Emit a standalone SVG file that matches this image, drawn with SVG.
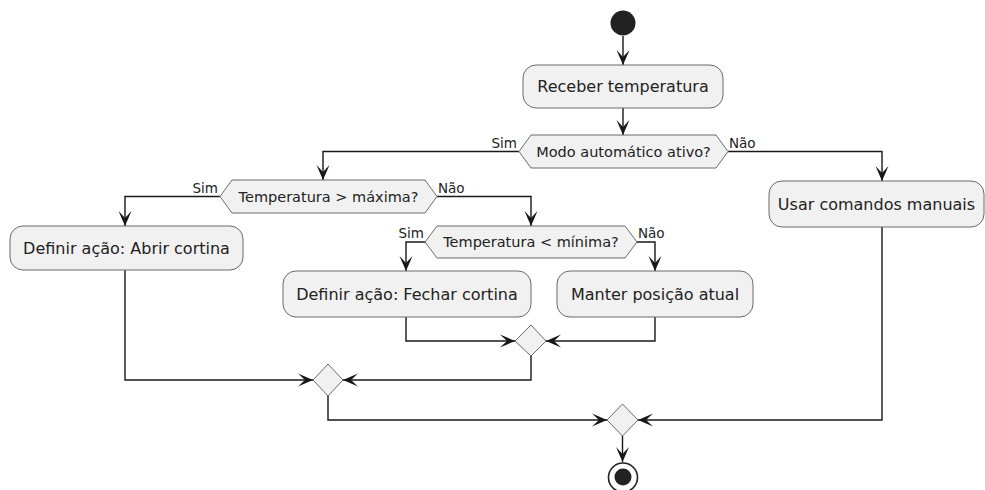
<svg xmlns="http://www.w3.org/2000/svg" width="985" height="490" viewBox="0 0 985 490">
<defs>
<marker id="ah" viewBox="-16 -8 17 16" refX="0" refY="0" markerWidth="17" markerHeight="16" markerUnits="userSpaceOnUse" orient="auto">
<path d="M0,0 L-15,-6.5 L-8,0 L-15,6.5 Z" fill="#181818"/>
</marker>
<style>
.box{fill:#F1F1F1;stroke:#6a6a6a;stroke-width:1}
.dia{fill:#F1F1F1;stroke:#6a6a6a;stroke-width:1}
.t{font-family:"DejaVu Sans",sans-serif;font-size:16px;fill:#222;text-anchor:middle}
.dt{font-family:"DejaVu Sans",sans-serif;font-size:14.5px;fill:#222;text-anchor:middle}
.lb{font-family:"DejaVu Sans",sans-serif;font-size:13.5px;fill:#222}
.c{fill:none;stroke:#181818;stroke-width:1.4;marker-end:url(#ah)}
</style>
</defs>
<rect width="985" height="490" fill="#fff"/>
<g id="connectors">
<path class="c" d="M623,36 V65"/>
<path class="c" d="M623,108 V135"/>
<path class="c" d="M519,151.5 H323 V180"/>
<path class="c" d="M728,151.5 H882 V181"/>
<path class="c" d="M220,196.5 H125 V226"/>
<path class="c" d="M437,196.5 H531 V226"/>
<path class="c" d="M425,242 H406 V271"/>
<path class="c" d="M637,242 H655 V271"/>
<path class="c" d="M406,317 V341 H515"/>
<path class="c" d="M655,317 V341 H546"/>
<path class="c" d="M531,356 V380 H343"/>
<path class="c" d="M125,270 V380 H313"/>
<path class="c" d="M328,396 V420 H607"/>
<path class="c" d="M882,227 V420 H638"/>
<path class="c" d="M622.5,436 V462"/>
<text class="lb" x="517" y="148" text-anchor="end">Sim</text>
<text class="lb" x="729" y="148">Não</text>
<text class="lb" x="218" y="193" text-anchor="end">Sim</text>
<text class="lb" x="438" y="193">Não</text>
<text class="lb" x="424" y="238" text-anchor="end">Sim</text>
<text class="lb" x="638" y="238">Não</text>
</g>
<g id="start"><circle cx="623" cy="23" r="12.5" fill="#222"/></g>
<g id="receber"><rect class="box" x="523" y="65" width="200" height="43" rx="13"/><text class="t" x="623" y="92">Receber temperatura</text></g>
<g id="modo"><polygon class="dia" points="531,135 716,135 728,151.5 716,168 531,168 519,151.5"/><text class="dt" x="623.5" y="157">Modo automático ativo?</text></g>
<g id="tempmax"><polygon class="dia" points="232,180 425,180 437,196.5 425,213 232,213 220,196.5"/><text class="dt" x="328.5" y="202">Temperatura &gt; máxima?</text></g>
<g id="abrir"><rect class="box" x="10" y="226" width="233" height="44" rx="13"/><text class="t" x="126.5" y="254">Definir ação: Abrir cortina</text></g>
<g id="tempmin"><polygon class="dia" points="437,226 625,226 637,242 625,258 437,258 425,242"/><text class="dt" x="531" y="247">Temperatura &lt; mínima?</text></g>
<g id="fechar"><rect class="box" x="283" y="271" width="248" height="46" rx="13"/><text class="t" x="407" y="300">Definir ação: Fechar cortina</text></g>
<g id="manter"><rect class="box" x="557" y="271" width="196" height="46" rx="13"/><text class="t" x="655" y="300">Manter posição atual</text></g>
<g id="usar"><rect class="box" x="769" y="181" width="215" height="46" rx="13"/><text class="t" x="876.5" y="210">Usar comandos manuais</text></g>
<g id="merge1"><polygon class="dia" points="531,325 546,341 531,356 515,341"/></g>
<g id="merge2"><polygon class="dia" points="328,364 343,380 328,396 313,380"/></g>
<g id="merge3"><polygon class="dia" points="622.5,404 638,420 622.5,436 607,420"/></g>
<g id="end"><circle cx="623" cy="477.5" r="14.5" fill="#fff" stroke="#222" stroke-width="1.6"/><circle cx="623" cy="477" r="8.5" fill="#222"/></g>
</svg>
